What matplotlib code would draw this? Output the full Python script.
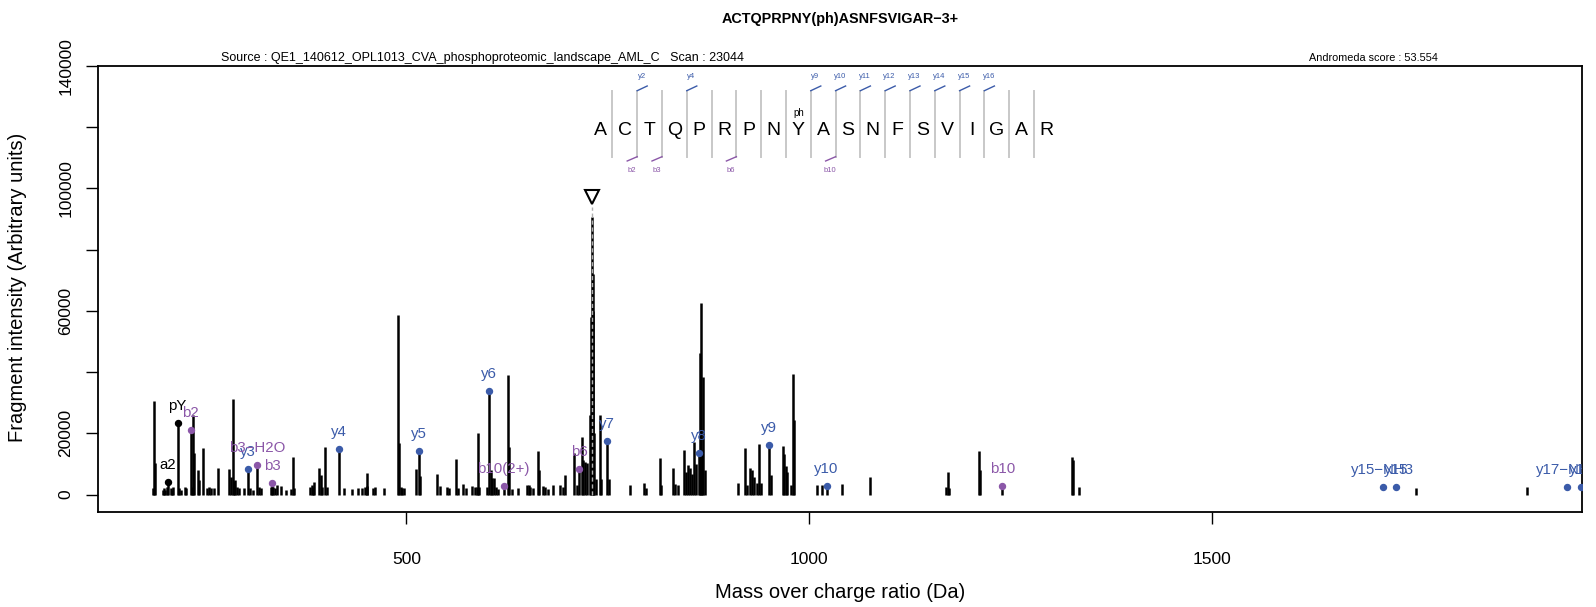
import matplotlib
matplotlib.use("Agg")
import matplotlib.pyplot as plt
from matplotlib.lines import Line2D
from matplotlib.transforms import offset_copy

plt.rcParams['font.family'] = ['Liberation Sans', 'DejaVu Sans']

# ---------------- data ----------------
peak_mz = [185.5, 186.9, 188.3, 197.4, 199.1, 200.7, 202.4, 204.1, 207.4, 209.0, 210.7,
           216.1, 218.2, 220.0, 225.0, 227.0, 232.1, 233.5, 235.5, 236.3, 240.9, 243.0,
           247.1, 252.9, 254.5, 257.4, 261.2, 266.1, 280.2, 281.9, 284.3, 285.6, 287.2,
           289.3, 292.6, 298.8, 303.2, 305.9, 310.0, 315.1, 316.5,
           320.0, 331.8, 333.1, 334.8, 337.0, 339.0, 344.0, 350.6, 356.4, 358.9, 360.5,
           380.4, 382.5, 384.5, 385.3, 392.0, 393.6, 395.0, 399.4, 401.0, 416.3, 422.6,
           432.1, 440.4, 445.0, 448.6, 450.7, 451.5, 459.0, 461.0, 472.5,
           489.9, 491.3, 493.0, 495.0, 497.0, 512.0, 515.3, 516.5, 538.4, 541.8, 550.9,
           553.5, 561.6, 564.5, 570.7, 574.0, 581.1, 585.0, 587.5, 589.3, 590.5, 599.7,
           602.4, 604.7, 606.7, 608.8, 611.3, 614.2, 620.6, 626.6, 627.8, 630.8, 639.0,
           650.2, 651.8, 653.5, 656.8, 663.8, 664.6, 670.0, 672.5, 676.0, 682.4, 690.7,
           694.0, 697.0, 708.5, 711.5, 714.3, 718.0, 719.7, 721.8, 724.7, 727.9, 729.2,
           730.4, 731.3, 732.1, 733.0, 735.0, 740.0, 741.5, 749.4, 751.0,
           777.6, 795.0, 798.0, 814.8, 816.5, 831.4, 833.5, 837.6, 844.6, 847.0, 850.0,
           852.0, 854.0, 857.0, 859.0, 863.5, 864.1, 865.7, 867.0, 868.6, 870.5,
           912.1, 920.4, 922.5, 926.6, 928.6, 931.5, 935.5, 938.2, 940.3, 950.5, 952.2,
           967.1, 968.8, 970.8, 972.8, 977.1, 979.5, 981.2, 1009.3, 1015.5, 1021.5,
           1040.3, 1075.4, 1169.8, 1172.7, 1174.0, 1210.8, 1212.0, 1239.7, 1326.6,
           1327.9, 1335.3, 1753.2, 1890.6]
peak_int = [2000, 30700, 10200, 1500, 2300, 1500, 2400, 3970, 2200, 1500, 2400,
            23260, 2000, 1600, 2500, 2000, 21080, 2500, 25990, 13450, 8000, 4730,
            15080, 2000, 2500, 2000, 2200, 8550, 8220, 5820, 31110, 4500, 4700,
            2500, 2000, 2000, 8220, 2000, 1500, 9640, 2500,
            2000, 2500, 3860, 2400, 2000, 3100, 2800, 1500, 1700, 12360, 2000,
            2500, 3000, 2500, 4200, 8550, 6370, 2500, 15410, 2500, 14760, 2000,
            1700, 2000, 2000, 2500, 7130, 2800, 2300, 2500, 2000,
            58700, 16700, 2500, 2000, 2300, 8210, 14200, 6000, 6570, 2800, 2500,
            2000, 11480, 2000, 3600, 2300, 2800, 2500, 2500, 20200, 2500, 2500,
            33830, 7990, 5270, 5270, 2500, 1700, 2870, 39060, 15400, 1700, 2000,
            3200, 3000, 2600, 2000, 14300, 8000, 2800, 2500, 1700, 3200, 3200,
            2600, 6350, 13440, 3000, 8320, 18700, 11260, 10700, 10170, 25970, 58120,
            90820, 60000, 72070, 20000, 5000, 26000, 5000, 17580, 5000,
            3080, 3630, 2000, 11800, 3000, 8520, 3600, 3080, 14520, 7500, 9610,
            8520, 6800, 17250, 10000, 13650, 46350, 62700, 13500, 38500, 8000,
            3840, 15070, 3080, 8520, 7950, 5800, 3630, 16480, 3630, 16260, 6500,
            15940, 13400, 9290, 7500, 3080, 39260, 24330, 3080, 3080, 2860,
            3410, 5590, 2540, 7450, 2300, 14200, 7990, 2760, 12130,
            11300, 2540, 2230, 2550]

ion_labels = ['a2', 'pY', 'b2', 'y3', 'b3\u2212H2O', 'b3', 'y4', 'y5', 'y6', 'b10(2+)',
              'b6', 'y7', 'y8', 'y9', 'y10', 'b10', 'y15\u2212NH3', 'y15', 'y17\u2212NH3', 'y17']
ion_mz = [204.1, 216.1, 232.1, 303.2, 315.1, 333.1, 416.3, 515.3, 602.4, 620.6,
          714.3, 749.4, 863.5, 950.5, 1021.5, 1239.7, 1711.8, 1728.8, 1940.9, 1957.9]
ion_int = [3970, 23260, 21080, 8220, 9640, 3860, 14760, 14200, 33830, 2870,
           8320, 17580, 13650, 16260, 2860, 2760, 2330, 2330, 2500, 2330]
ion_kind = ['other', 'other', 'b', 'y', 'b', 'b', 'y', 'y', 'y', 'b',
            'b', 'y', 'y', 'y', 'y', 'b', 'y', 'y', 'y', 'y']

precursor_mz = 730.4
precursor_marker_int = 97100

sequence = ['A', 'C', 'T', 'Q', 'P', 'R', 'P', 'N', 'Y', 'A', 'S', 'N', 'F', 'S', 'V', 'I', 'G', 'A', 'R']
y_sites = [2, 4, 9, 10, 11, 12, 13, 14, 15, 16]
b_sites = [2, 3, 6, 10]
phospho_site = 9

title = 'ACTQPRPNY(ph)ASNFSVIGAR\u22123+'
source_text = 'Source : QE1_140612_OPL1013_CVA_phosphoproteomic_landscape_AML_C   Scan : 23044'
score_text = 'Andromeda score : 53.554'

x_ticks = [500, 1000, 1500]
y_ticks = [0, 20000, 40000, 60000, 80000, 100000, 120000, 140000]
y_ticklabels = ['0', '20000', '', '60000', '', '100000', '', '140000']

BLUE = '#3B5BA9'
PURPLE = '#8B57A8'
colors = {'y': BLUE, 'b': PURPLE, 'other': 'black'}

# ---------------- figure ----------------
W, H = 1596, 607
fig = plt.figure(figsize=(W / 100, H / 100), dpi=100)
ax = fig.add_axes([98 / W, 1 - 512 / H, (1582 - 98) / W, (512 - 66) / H])
ax.set_xlim(117.2, 1959.3)
ax.set_ylim(-5700, 140000)

ax.vlines(peak_mz, 0, peak_int, color='black', lw=1.8, zorder=2)
ax.vlines([precursor_mz], 0, [precursor_marker_int - 3000], color='#b0b0b0', lw=1.0,
          linestyles=(0, (3, 2)), zorder=3)
ax.plot([precursor_mz], [precursor_marker_int], marker='v', ms=9.5, mfc='none',
        mec='black', mew=1.5, zorder=4)

label_tr = offset_copy(ax.transData, fig=fig, x=0, y=12.2, units='points')
for lab, mz, it, k in zip(ion_labels, ion_mz, ion_int, ion_kind):
    c = colors[k]
    ax.plot([mz], [it], 'o', ms=4.3, color=c, zorder=5)
    ax.text(mz, it, lab, transform=label_tr, ha='center', va='center',
            fontsize=10.8, color=c, zorder=6, clip_on=True)

ax.set_xticks(x_ticks)
ax.set_xticklabels([str(v) for v in x_ticks])
ax.set_yticks(y_ticks)
ax.set_yticklabels(y_ticklabels)
ax.tick_params(axis='x', length=8.6, width=1.0, pad=20, labelsize=12.5)
ax.tick_params(axis='y', length=8.6, width=1.0, pad=9, labelsize=12.5)
for t in ax.get_yticklabels():
    t.set_rotation(90)
    t.set_va('center')
for s in ax.spines.values():
    s.set_linewidth(1.3)

fig.text(18 / W, 1 - 287 / H, 'Fragment intensity (Arbitrary units)', rotation=90,
         ha='center', va='center', fontsize=14.5)
fig.text(840 / W, 1 - 592 / H, 'Mass over charge ratio (Da)', ha='center', va='center',
         fontsize=14.5)
fig.text(840 / W, 1 - 18.5 / H, title, ha='center', va='center', fontsize=10.4,
         fontweight='bold')
fig.text(221 / W, 1 - 58 / H, source_text, ha='left', va='center', fontsize=9.0)
fig.text(1309 / W, 1 - 58 / H, score_text, ha='left', va='center', fontsize=7.8)

# ---------------- sequence annotation (figure pixel layout) ----------------
def P(x, y):
    return (x / W, 1 - y / H)

x0, dx = 600.0, 24.8
for i, aa in enumerate(sequence):
    fig.text(*P(x0 + dx * i, 130.5), aa, ha='center', va='center', fontsize=14)
fig.text(*P(x0 + dx * (phospho_site - 1), 113), 'ph', ha='center', va='center', fontsize=7)
for j in range(1, len(sequence)):
    xs = x0 + dx * (j - 0.5)
    fig.add_artist(Line2D([xs / W, xs / W], [1 - 90.7 / H, 1 - 156.7 / H],
                          color='#c8c8c8', lw=1.4, transform=fig.transFigure))
for j in y_sites:
    xs = x0 + dx * (j - 0.5)
    fig.add_artist(Line2D([xs / W, (xs + 10) / W], [1 - 90.7 / H, 1 - 86 / H],
                          color=BLUE, lw=1.0, transform=fig.transFigure))
    fig.text(*P(xs + 4.4, 77), 'y%d' % j, ha='center', va='center', fontsize=5.5, color=BLUE)
for j in b_sites:
    xs = x0 + dx * (j - 0.5)
    fig.add_artist(Line2D([xs / W, (xs - 10) / W], [1 - 156.7 / H, 1 - 161 / H],
                          color=PURPLE, lw=1.0, transform=fig.transFigure))
    fig.text(*P(xs - 5.5, 170), 'b%d' % j, ha='center', va='center', fontsize=5.5, color=PURPLE)

fig.savefig('out.png', dpi=100)
